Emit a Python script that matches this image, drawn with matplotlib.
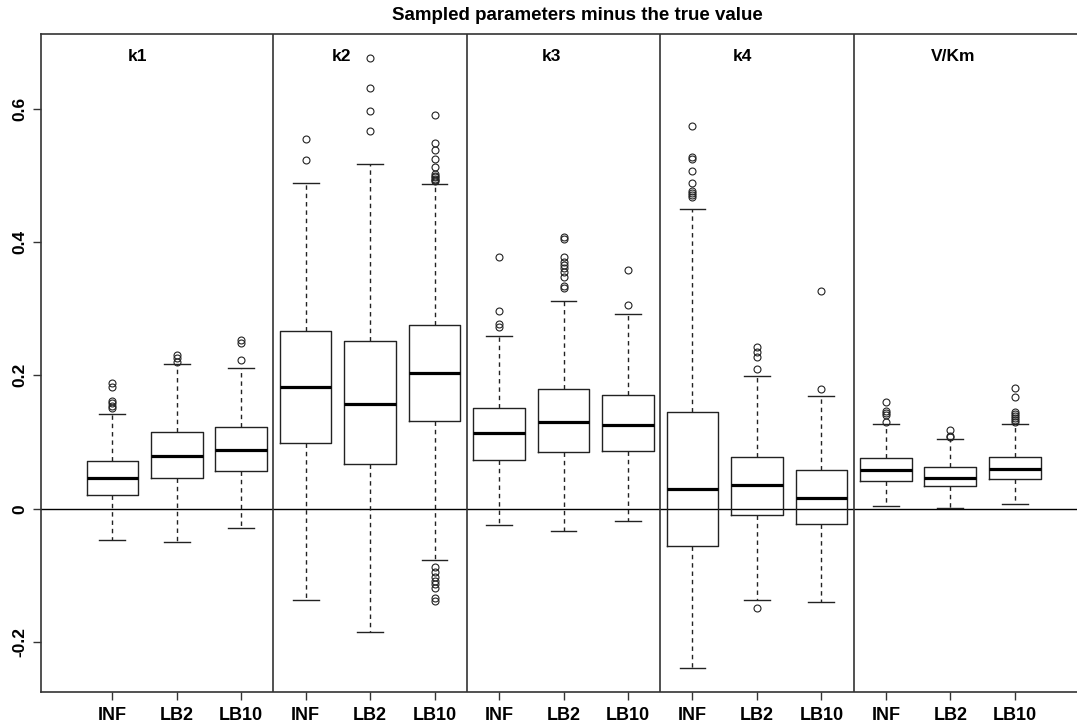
import matplotlib
matplotlib.use("Agg")
import matplotlib.pyplot as plt

plt.rcParams['font.family'] = ['Liberation Sans', 'DejaVu Sans']

title = "Sampled parameters minus the true value"
groups = ['k1', 'k2', 'k3', 'k4', 'V/Km']
methods = ['INF', 'LB2', 'LB10']

# box statistics, order: k1(INF,LB2,LB10), k2(...), k3(...), k4(...), V/Km(...)
whislo = [-0.0465, -0.0495, -0.029, -0.137, -0.1845, -0.0765, -0.024, -0.034, -0.019,
          -0.2385, -0.1375, -0.1405, 0.004, 0.001, 0.007]
q1 = [0.0205, 0.0465, 0.056, 0.0985, 0.0665, 0.131, 0.073, 0.0855, 0.087,
      -0.056, -0.009, -0.0225, 0.041, 0.034, 0.0446]
med = [0.046, 0.079, 0.088, 0.1825, 0.157, 0.204, 0.114, 0.130, 0.126,
       0.030, 0.036, 0.0167, 0.0585, 0.046, 0.060]
q3 = [0.072, 0.115, 0.122, 0.2667, 0.2515, 0.276, 0.1515, 0.180, 0.1706,
      0.1455, 0.077, 0.0573, 0.0756, 0.062, 0.077]
whishi = [0.142, 0.2166, 0.211, 0.488, 0.5176, 0.487, 0.2595, 0.312, 0.292,
          0.449, 0.199, 0.169, 0.1275, 0.1045, 0.1275]
fliers = [
    [0.188, 0.183, 0.1615, 0.158, 0.1545, 0.1505],
    [0.2305, 0.2256, 0.2205],
    [0.253, 0.249, 0.223],
    [0.554, 0.523],
    [0.676, 0.631, 0.596, 0.567],
    [0.590, 0.549, 0.5375, 0.5245, 0.513, 0.502, 0.499, 0.497, 0.495, 0.493, 0.491,
     -0.088, -0.095, -0.102, -0.108, -0.113, -0.119, -0.134, -0.139],
    [0.378, 0.2966, 0.2766, 0.272],
    [0.407, 0.4045, 0.378, 0.3705, 0.3655, 0.3606, 0.3555, 0.348, 0.334, 0.3306],
    [0.358, 0.3055],
    [0.5746, 0.527, 0.525, 0.506, 0.489, 0.477, 0.4737, 0.47, 0.468],
    [0.2425, 0.235, 0.228, 0.21, -0.1485],
    [0.327, 0.18],
    [0.1596, 0.147, 0.144, 0.141, 0.1305],
    [0.118, 0.109, 0.107],
    [0.1815, 0.168, 0.1455, 0.142, 0.139, 0.136, 0.133, 0.130],
]

yticks = [-0.2, 0, 0.2, 0.4, 0.6]
ytick_labels = ['-0.2', '0', '0.2', '0.4', '0.6']

# layout (text positions in data coords)
panel_label_x = [1.39, 4.56, 7.82, 10.78, 14.05]
panel_label_y = 0.678

W, H = 1077, 725
fig = plt.figure(figsize=(W / 100, H / 100), dpi=100)
left_px, right_px, top_px, bot_px = 41, 1100, 34, 692
ax = fig.add_axes([left_px / W, 1 - bot_px / H, (right_px - left_px) / W, (bot_px - top_px) / H])

n = len(med)
positions = list(range(1, n + 1))
stats = []
for i in range(n):
    stats.append(dict(med=med[i], q1=q1[i], q3=q3[i], whislo=whislo[i], whishi=whishi[i],
                      fliers=fliers[i]))

ax.bxp(stats, positions=positions, widths=0.8, capwidths=0.4, showfliers=True,
       boxprops=dict(color='#222222', linewidth=1.0),
       medianprops=dict(color='black', linewidth=2.3, solid_capstyle='butt'),
       whiskerprops=dict(color='#222222', linewidth=1.0, linestyle=(0, (3.2, 2.8))),
       capprops=dict(color='#222222', linewidth=1.0),
       flierprops=dict(marker='o', markersize=5, markerfacecolor='none',
                       markeredgecolor='#222222', markeredgewidth=0.8, linestyle='none'))

px_per_unit = 64.46
x0 = 1 - (112.3 - left_px) / px_per_unit
x1 = x0 + (right_px - left_px) / px_per_unit
ax.set_xlim(x0, x1)
v_per_px = 1 / 666.7
ax.set_ylim(-(bot_px - 508.7) * v_per_px, (508.7 - top_px) * v_per_px)

ax.axhline(0, color='black', linewidth=1.0, zorder=1)
for g in range(1, len(groups)):
    ax.axvline(3 * g + 0.5, color='#333333', linewidth=1.2, zorder=1)

for g, name in enumerate(groups):
    ax.text(panel_label_x[g], panel_label_y, name, ha='center', va='center',
            fontsize=12.5, fontweight='bold')

ax.set_xticks(positions)
ax.set_xticklabels(methods * len(groups), fontsize=13, fontweight='bold')
ax.set_yticks(yticks)
ax.set_yticklabels(ytick_labels, fontsize=12.5, fontweight='bold', rotation=90, va='center')
ax.tick_params(axis='both', length=6, width=1.0, color='#333333')
ax.tick_params(axis='x', pad=5)
ax.tick_params(axis='y', pad=4)

for s in ['left', 'bottom', 'top']:
    ax.spines[s].set_color('#333333')
    ax.spines[s].set_linewidth(1.2)
ax.spines['right'].set_visible(False)

fig.text(577 / W, 1 - 15 / H, title, ha='center', va='center', fontsize=13.5, fontweight='bold')

fig.savefig('out.png', dpi=100)
